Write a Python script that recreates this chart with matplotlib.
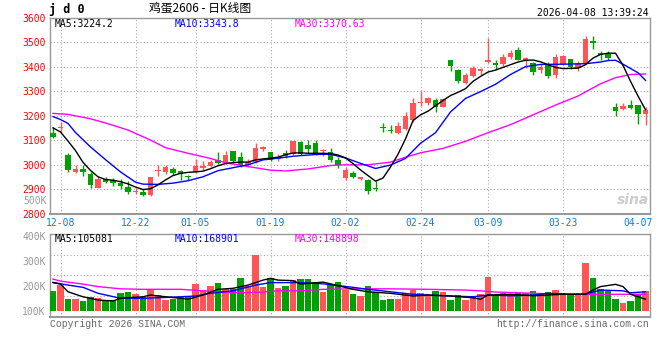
import numpy as np
import matplotlib
matplotlib.use('Agg')
import matplotlib.pyplot as plt

plt.rcParams['font.family'] = 'DejaVu Sans Mono'

# daily candles, 12-05 .. 04-08
opens = [3130, 3150, 3039, 2968, 2982, 2962, 2906, 2943, 2935, 2924,
         2909, 2888, 2886, 2877, 2974, 2968, 2981, 2973, 2955, 2970,
         2985, 2996, 3019, 3008, 3056, 3031, 2997, 3012, 3063, 3052,
         3022, 3046, 3043, 3094, 3080, 3087, 3054, 3053, 3019, 2947,
         2965, 2941, 2938, 2905, 3152, 3141, 3127, 3145, 3182, 3250,
         3252, 3263, 3236, 3429, 3385, 3335, 3362, 3382, 3419, 3415,
         3409, 3439, 3469, 3429, 3415, 3385, 3412, 3367, 3412, 3432,
         3396, 3415, 3503, 3457, 3450, 3237, 3226, 3242, 3242, 3205]
closes = [3114, 3153, 2976, 2982, 2968, 2917, 2943, 2928, 2924, 2911,
          2888, 2891, 2876, 2951, 2977, 2991, 2966, 2961, 2948, 2996,
          2996, 3012, 3006, 3040, 3016, 2999, 3012, 3068, 3072, 3019,
          3030, 3033, 3096, 3043, 3065, 3043, 3058, 3019, 2999, 2976,
          2951, 2948, 2890, 2902, 3149, 3136, 3157, 3198, 3250, 3253,
          3270, 3236, 3266, 3402, 3340, 3365, 3396, 3389, 3426, 3407,
          3439, 3455, 3429, 3437, 3378, 3398, 3362, 3441, 3443, 3398,
          3415, 3511, 3496, 3446, 3437, 3219, 3241, 3230, 3207, 3224]
highs = [3152, 3175, 3049, 2997, 2997, 2968, 2948, 2948, 2946, 2940,
         2932, 2905, 2900, 2951, 2997, 2997, 2992, 2976, 2959, 3022,
         3016, 3019, 3052, 3055, 3056, 3052, 3022, 3088, 3076, 3052,
         3044, 3060, 3098, 3098, 3100, 3100, 3064, 3067, 3030, 2990,
         2972, 2951, 2943, 2931, 3171, 3161, 3175, 3215, 3270, 3301,
         3276, 3272, 3268, 3429, 3389, 3376, 3402, 3396, 3518, 3429,
         3450, 3470, 3480, 3439, 3419, 3415, 3419, 3450, 3447, 3432,
         3423, 3527, 3527, 3464, 3464, 3250, 3252, 3262, 3242, 3237]
lows = [3107, 3128, 2968, 2964, 2954, 2906, 2906, 2924, 2914, 2900,
        2880, 2880, 2870, 2872, 2954, 2962, 2958, 2938, 2938, 2965,
        2976, 2992, 3002, 3002, 3006, 2989, 2989, 3008, 3055, 3015,
        3015, 3027, 3040, 3037, 3046, 3037, 3033, 3012, 2984, 2938,
        2947, 2938, 2881, 2890, 3134, 3127, 3125, 3141, 3175, 3239,
        3243, 3215, 3234, 3382, 3334, 3330, 3358, 3366, 3416, 3392,
        3404, 3432, 3426, 3396, 3367, 3375, 3354, 3354, 3406, 3389,
        3384, 3412, 3473, 3427, 3427, 3199, 3222, 3226, 3167, 3163]
volumes = [180, 203, 148, 148, 140, 154, 152, 143, 143, 170,
           176, 167, 156, 186, 163, 143, 147, 156, 156, 207,
           183, 199, 213, 186, 186, 233, 199, 324, 194, 230,
           190, 199, 223, 227, 227, 217, 175, 207, 217, 183,
           167, 159, 199, 176, 143, 147, 147, 170, 183, 170,
           163, 180, 175, 143, 163, 143, 156, 167, 237, 163,
           170, 163, 170, 170, 180, 170, 176, 183, 170, 163,
           163, 293, 233, 186, 180, 148, 132, 140, 163, 180]

# price moving averages
ma5 = [3150, 3133, 3096, 3057, 3009, 2976, 2950, 2939, 2936, 2930,
       2921, 2908, 2898, 2901, 2917, 2937, 2955, 2964, 2968, 2970,
       2973, 2983, 2995, 3004, 3008, 3010, 3010, 3019, 3023, 3026,
       3030, 3040, 3047, 3048, 3046, 3046, 3046, 3045, 3039, 3027,
       3004, 2978, 2955, 2932, 2945, 2990, 3042, 3105, 3180, 3203,
       3218, 3240, 3262, 3282, 3295, 3310, 3340, 3360, 3378, 3386,
       3397, 3408, 3419, 3426, 3427, 3420, 3408, 3397, 3392, 3393,
       3394, 3408, 3435, 3450, 3455, 3455, 3405, 3340, 3280, 3224]
ma10_idx = [0, 1, 2, 3, 5, 7, 9, 11, 12, 14, 16, 18, 20, 22, 24, 26, 28, 30,
            32, 35, 37, 39, 41, 43, 45, 47, 49, 51, 53, 55, 57, 59, 61, 63,
            65, 68, 71, 73, 74, 75, 76, 78, 79]
ma10 = [3196, 3184, 3168, 3131, 3072, 3020, 2970, 2928, 2920, 2919, 2924,
        2934, 2950, 2975, 2987, 2999, 3019, 3026, 3034, 3041, 3042, 3027,
        3005, 2984, 2998, 3025, 3087, 3130, 3215, 3270, 3298, 3328, 3368,
        3400, 3409, 3410, 3412, 3419, 3425, 3426, 3410, 3375, 3344]
ma30_idx = [0, 2, 5, 7, 10, 13, 15, 18, 21, 23, 26, 29, 31, 34, 37, 39, 42,
            45, 47, 49, 52, 55, 58, 61, 64, 67, 70, 73, 75, 77, 79]
ma30 = [3209, 3205, 3187, 3170, 3141, 3100, 3069, 3046, 3025, 3007, 2992,
        2977, 2974, 2982, 2996, 2999, 2999, 3010, 3030, 3048, 3066, 3095,
        3130, 3163, 3203, 3243, 3280, 3330, 3355, 3368, 3370]

# volume moving averages (K)
vma5_idx = [0, 1, 2, 4, 6, 8, 9, 12, 13, 15, 17, 18, 20, 22, 24, 26, 28, 29,
            30, 32, 33, 36, 37, 40, 42, 45, 48, 50, 53, 56, 57, 58, 61, 64,
            66, 68, 71, 72, 73, 75, 76, 77, 79]
vma5 = [213, 207, 176, 156, 143, 139, 150, 156, 163, 156, 150, 146, 163,
        186, 190, 203, 223, 230, 223, 221, 207, 215, 208, 186, 176, 170,
        159, 163, 159, 152, 146, 163, 166, 160, 163, 166, 166, 183, 197,
        206, 197, 166, 146]
vma10_idx = [0, 2, 4, 6, 9, 12, 14, 17, 19, 21, 24, 27, 29, 33, 36, 40, 42,
             45, 48, 50, 53, 56, 58, 61, 64, 66, 69, 71, 73, 76, 77, 79]
vma10 = [214, 203, 194, 170, 150, 150, 152, 156, 159, 170, 180, 203, 213,
         213, 208, 194, 186, 176, 166, 163, 159, 156, 163, 160, 163, 170,
         166, 167, 183, 180, 172, 176]
vma30_idx = [0, 1, 4, 6, 9, 12, 14, 17, 20, 22, 25, 28, 30, 33, 36, 40, 45,
             50, 55, 57, 59, 64, 68, 74, 79]
vma30 = [227, 219, 207, 197, 188, 186, 186, 186, 180, 176, 172, 175, 180,
         180, 186, 188, 188, 186, 183, 180, 175, 170, 166, 166, 166]

tick_idx = [1, 11, 19, 29, 39, 49, 58, 68, 78]
tick_labels = ['12-08', '12-22', '01-05', '01-19', '02-02', '02-24', '03-09', '03-23', '04-07']

RED = '#ff5555'
GREEN = '#00a000'
GRID = dict(color='#aaaaaa', linestyle=(0, (1, 2)), linewidth=0.8)
VOL_BASE = 100

W, H = 660, 360
fig = plt.figure(figsize=(W / 100, H / 100), dpi=100)
ax = fig.add_axes([50 / W, 1 - 213.5 / H, 599.5 / W, (213.5 - 17.7) / H])
ax2 = fig.add_axes([50 / W, 1 - 317 / H, 599.5 / W, 83 / H])

idx = np.arange(len(opens))
o = np.array(opens)
c = np.array(closes)
colors = np.where(c >= o, RED, GREEN)

ax.vlines(idx, lows, highs, colors=colors, linewidth=1, zorder=3)
ax.bar(idx, np.maximum(np.abs(c - o), 4), bottom=np.minimum(o, c), width=0.78,
       color=colors, linewidth=0, zorder=3)
ax.plot(ma30_idx, ma30, color='#ff00ff', lw=1, zorder=4)
ax.plot(ma10_idx, ma10, color='#0000ff', lw=1, zorder=4)
ax.plot(idx, ma5, color='black', lw=1, zorder=4)

ax.set_xlim(-0.4, 79.53)
ax.set_ylim(2800, 3600)
ax.set_yticks(np.arange(2800, 3601, 100))
ax.set_xticks(tick_idx)
ax.set_xticklabels(tick_labels)
ax.tick_params(axis='y', length=0, pad=3, labelsize=7, labelcolor='#ff0000')
ax.tick_params(axis='x', length=0, pad=3.5, labelsize=7, labelcolor='#0a7fd8')
ax.grid(True, **GRID)
ax.set_axisbelow(True)
ax.xaxis.get_gridlines()[-1].set_visible(False)

vol = np.array(volumes)
ax2.bar(idx, vol - VOL_BASE, bottom=VOL_BASE, width=0.84, color=colors, linewidth=0, zorder=3)
ax2.plot(vma30_idx, vma30, color='#ff00ff', lw=1, zorder=4)
ax2.plot(vma10_idx, vma10, color='#0000ff', lw=1, zorder=4)
ax2.plot(vma5_idx, vma5, color='black', lw=1, zorder=4)
ax2.set_xlim(-0.4, 79.53)
ax2.set_ylim(74.6, 408.6)
ax2.set_yticks([100, 200, 300, 400])
ax2.set_yticklabels(['100K', '200K', '300K', '400K'])
ax2.set_yticks(np.linspace(74.6, 408.6, 5)[1:-1], minor=True)
ax2.set_xticks(tick_idx)
ax2.set_xticklabels([])
ax2.tick_params(axis='both', which='both', length=0)
ax2.tick_params(axis='y', pad=3, labelsize=7, labelcolor='#999999')
ax2.grid(True, which='minor', axis='y', **GRID)
ax2.grid(True, which='major', axis='x', **GRID)
ax2.set_axisbelow(True)
ax2.xaxis.get_gridlines()[-1].set_visible(False)

for a in (ax, ax2):
    for s in a.spines.values():
        s.set_color('#999999')
        s.set_linewidth(1)
    a.spines['bottom'].set_linewidth(1.5)

def ftext(x, y, s, **kw):
    fig.text(x / W, 1 - y / H, s, va='center', **kw)

ftext(49, 10, 'j d 0', fontsize=8.5, fontweight='bold')
ftext(200, 8.5, '鸡蛋2606 - 日K线图', fontsize=8.5, ha='center',
      family=['Noto Sans CJK SC', 'DejaVu Sans'])
ftext(649, 12.5, '2026-04-08 13:39:24', fontsize=7, ha='right')
ftext(55, 24, 'MA5:3224.2', fontsize=7, color='black')
ftext(175, 24, 'MA10:3343.8', fontsize=7, color='#0000ff')
ftext(295, 24, 'MA30:3370.63', fontsize=7, color='#ff00ff')
ftext(55, 238.5, 'MA5:105081', fontsize=7, color='black')
ftext(175, 238.5, 'MA10:168901', fontsize=7, color='#0000ff')
ftext(295, 238.5, 'MA30:148898', fontsize=7, color='#ff00ff')
ftext(46.5, 200.5, '500K', fontsize=7, color='#999999', ha='right')
ftext(649, 200, 'sina', fontsize=10, color='#cccccc', ha='right',
      style='italic', fontweight='bold', family='DejaVu Sans')
ftext(50, 324, 'Copyright 2026 SINA.COM', fontsize=7, color='#666666', family='Liberation Mono')
ftext(649, 324, 'http://finance.sina.com.cn', fontsize=7, color='#666666', ha='right',
      family='Liberation Mono')

fig.savefig('out.png', dpi=100, facecolor='white')
